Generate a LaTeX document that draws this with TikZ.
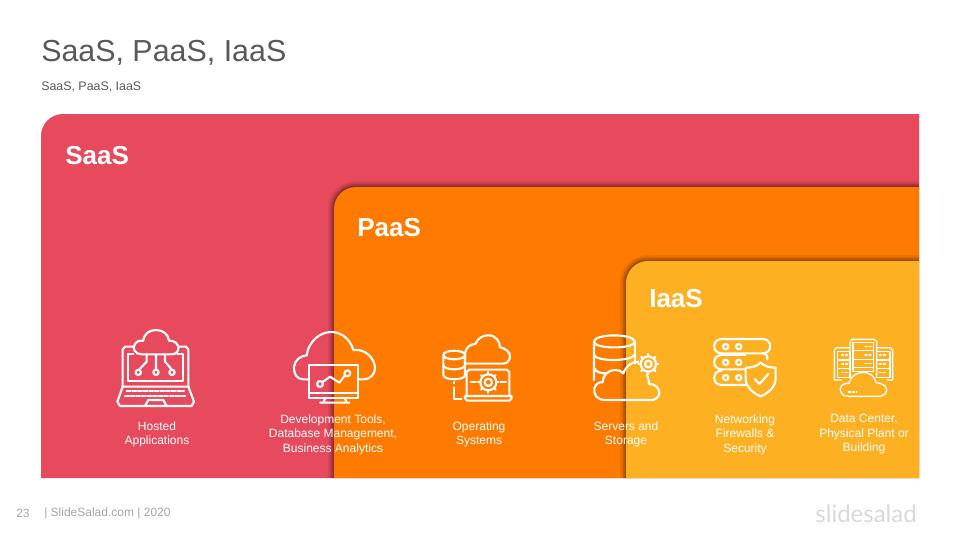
\documentclass[tikz,border=0pt]{standalone}
\usepackage{fontspec}
\setmainfont{Liberation Sans}
\newfontfamily\logofont{Lato}
\definecolor{saascol}{HTML}{E64A5C}
\definecolor{paascol}{HTML}{FF7B00}
\definecolor{iaascol}{HTML}{FDB022}
\definecolor{titlecol}{HTML}{595959}
\definecolor{footcol}{HTML}{A6A6A6}
\definecolor{logocol}{HTML}{D9D9D9}
\tikzset{
  paneltitle/.style={anchor=west, inner sep=0pt, text=white, font=\fontsize{19.5}{24}\selectfont\bfseries},
  iconlabel/.style={align=center, inner sep=0pt, text=white, font=\fontsize{9}{10.9}\selectfont},
  footnote/.style={anchor=west, inner sep=0pt, text=footcol, font=\fontsize{9}{10}\selectfont},
  iconline/.style={draw=white, line width=1.6pt, line join=round, line cap=round},
  thinline/.style={draw=white, line width=1pt, line join=round, line cap=round},
}
\begin{document}
\begin{tikzpicture}[x=0.75pt,y=-0.75pt]
  \useasboundingbox (0,0) rectangle (960,540);

  % title
  \node[anchor=west, inner sep=0pt, text=titlecol, font=\fontsize{22.8}{28}\selectfont] (title) at (41,53) {SaaS, PaaS, IaaS};
  \node[anchor=west, inner sep=0pt, text=titlecol, font=\fontsize{9.3}{11}\selectfont] (subtitle) at (41,87) {SaaS, PaaS, IaaS};

  % panels
  \fill[saascol] (919,114) -- (63,114) arc (270:180:22) -- (41,478) -- (919,478) -- cycle;
  \foreach \w/\o in {12/.06,9/.08,6/.12,3/.18} {
    \draw[black, line width=\w*0.75pt, opacity=\o] (919,187) -- (356,187) arc (270:180:22) -- (334,478);
  }
  \fill[paascol] (919,187) -- (356,187) arc (270:180:22) -- (334,478) -- (919,478) -- cycle;
  \foreach \w/\o in {12/.06,9/.08,6/.12,3/.18} {
    \draw[black, line width=\w*0.75pt, opacity=\o] (919,261) -- (648,261) arc (270:180:22) -- (626,478);
  }
  \fill[iaascol] (919,261) -- (648,261) arc (270:180:22) -- (626,478) -- (919,478) -- cycle;

  \node[paneltitle] (saas) at (65,156) {SaaS};
  \node[paneltitle] (paas) at (357,228) {PaaS};
  \node[paneltitle] (iaas) at (649,299) {IaaS};

  % hosted applications
  \begin{scope}[shift={(100,320)}, x=0.25pt, y=-0.25pt]
    \draw[iconline] (125,103) .. controls (105,103) and (95,85) .. (105,72) .. controls (112,62) and (122,60) .. (130,62) .. controls (132,40) and (150,30) .. (168,30) .. controls (188,30) and (205,42) .. (207,62) .. controls (222,60) and (238,72) .. (235,88) .. controls (232,100) and (222,103) .. (212,103) -- cycle;
    \draw[iconline] (100,80) -- (75,80) -- (68,88) -- (68,200) (235,80) -- (258,80) -- (265,88) -- (265,200);
    \draw[iconline] (100,103) -- (85,103) -- (85,182) -- (248,182) -- (248,103) -- (232,103);
    \draw[iconline] (168,103) -- (168,149) (140,103) -- (140,125) -- (120,146) (195,103) -- (195,125) -- (213,146);
    \draw[iconline] (168,157) circle (8) (115,157) circle (8) (216,157) circle (8);
    \draw[iconline] (68,200) -- (265,200) -- (282,245) -- (275,258) -- (60,258) -- (52,245) -- cycle;
    \draw[iconline, dash pattern=on 3pt off 1.2pt] (80,212) -- (252,212) (75,228) -- (258,228);
    \draw[iconline] (135,258) -- (145,240) -- (190,240) -- (200,258);
  \end{scope}
  \node[iconlabel] (hosted) at (157,434.5) {Hosted\\Applications};

  % development tools
  \begin{scope}[shift={(100,320)}, x=0.25pt, y=-0.25pt]
    \draw[iconline] (627,178) -- (610,178) .. controls (590,178) and (580,160) .. (582,140) .. controls (585,120) and (600,108) .. (620,106) .. controls (625,65) and (660,35) .. (695,36) .. controls (725,36) and (752,60) .. (760,90) .. controls (795,85) and (825,115) .. (825,145) .. controls (825,165) and (808,178) .. (790,178) -- (775,178);
    \draw[iconline] (627,135) rectangle (775,235);
    \draw[iconline] (627,218) -- (775,218);
    \draw[iconline] (675,235) -- (670,248) (735,235) -- (740,248) (660,248) -- (748,248);
    \draw[iconline] (660,192) circle (9) (742,160) circle (9);
    \draw[iconline] (668,186) -- (690,170) -- (718,188) -- (735,166);
  \end{scope}
  \node[iconlabel] (devtools) at (333,434.5) {Development Tools,\\Database Management,\\Business Analytics};

  % operating systems
  \begin{scope}[shift={(420,320)}, x=0.25pt, y=-0.25pt]
    \draw[iconline] (70,105) .. controls (70,88) and (135,88) .. (135,105) .. controls (135,122) and (70,122) .. (70,105) -- (70,165) .. controls (70,182) and (135,182) .. (135,165) -- (135,105);
    \draw[iconline] (70,135) .. controls (70,152) and (135,152) .. (135,135);
    \draw[iconline] (102,186) -- (102,190) (102,202) -- (102,237) -- (125,237);
    \draw[iconline] (135,130) -- (135,100) .. controls (138,82) and (150,72) .. (166,72) .. controls (172,55) and (190,45) .. (205,46) .. controls (228,46) and (240,65) .. (240,82) .. controls (258,85) and (272,98) .. (270,112) .. controls (268,124) and (258,131) .. (248,131) -- (135,131);
    \draw[iconline] (140,228) -- (140,156) -- (148,149) -- (260,149) -- (268,156) -- (268,228);
    \draw[iconline] (135,228) -- (275,228) -- (275,235) -- (268,242) -- (142,242) -- (135,235) -- cycle;
    \draw[iconline] (152,187) -- (168,187) (242,187) -- (258,187);
    \draw[iconline] (205,187) circle (24) (205,187) circle (11);
    \foreach \a in {0,45,...,315} {
      \draw[iconline] (205,187) ++(\a:24) -- ++(\a:7);
    }
  \end{scope}
  \node[iconlabel] (opsys) at (479,434.5) {Operating\\Systems};

  % servers and storage
  \begin{scope}[shift={(420,320)}, x=0.25pt, y=-0.25pt]
    \draw[iconline] (522,65) .. controls (522,40) and (644,40) .. (644,65) .. controls (644,88) and (522,88) .. (522,65) -- (522,180);
    \draw[iconline] (644,65) -- (644,130);
    \draw[iconline] (522,105) .. controls (530,125) and (630,125) .. (644,105);
    \draw[iconline] (522,145) .. controls (530,158) and (545,160) .. (560,160);
    \draw[iconline] (555,240) .. controls (530,240) and (520,222) .. (523,205) .. controls (527,190) and (540,185) .. (548,187) .. controls (548,165) and (565,150) .. (585,150) .. controls (595,150) and (605,153) .. (610,160) .. controls (618,138) and (635,125) .. (655,125);
    \draw[iconline] (680,163) .. controls (685,175) and (688,185) .. (686,192) .. controls (705,190) and (718,205) .. (718,218) .. controls (718,232) and (705,240) .. (695,240) -- (555,240);
    \draw[iconline] (685,132) circle (23) (685,132) circle (10);
    \foreach \a in {0,45,...,315} {
      \draw[iconline] (685,132) ++(\a:23) -- ++(\a:7);
    }
  \end{scope}
  \node[iconlabel] (servers) at (626,434.5) {Servers and\\Storage};

  % networking
  \begin{scope}[shift={(690,320)}, x=0.25pt, y=-0.25pt]
    \draw[iconline] (95,57) -- (218,57) .. controls (248,57) and (248,100) .. (218,100) -- (95,100) .. controls (65,100) and (65,57) .. (95,57) -- cycle;
    \draw[iconline] (218,100) .. controls (232,102) and (235,112) .. (232,118);
    \draw[iconline] (95,105) .. controls (65,105) and (65,148) .. (95,148) -- (165,148);
    \draw[iconline] (95,105) -- (165,105);
    \draw[iconline] (95,152) .. controls (65,152) and (65,195) .. (95,195) -- (172,195);
    \draw[iconline] (107,80) circle (8) (146,80) circle (8) (107,127) circle (8) (146,127) circle (8) (107,173) circle (8) (146,173) circle (8);
    \draw[iconline] (212,128) .. controls (225,140) and (240,143) .. (257,143) -- (257,175) .. controls (257,200) and (235,220) .. (212,229) .. controls (189,220) and (167,200) .. (167,175) -- (167,143) .. controls (184,143) and (199,140) .. (212,128) -- cycle;
    \draw[iconline] (194,177) -- (208,192) -- (235,162);
  \end{scope}
  \node[iconlabel] (network) at (745,434.5) {Networking\\Firewalls \&\\Security};

  % data center
  \begin{scope}[shift={(690,320)}, x=0.25pt, y=-0.25pt]
    \draw[thinline] (480,83) -- (440,83) -- (433,90) -- (433,180) -- (455,180);
    \draw[thinline] (560,83) -- (601,83) -- (608,90) -- (608,180) -- (590,180);
    \draw[thinline] (480,165) -- (480,65) -- (487,58) -- (553,58) -- (560,65) -- (560,165);
    \draw[thinline] (442,95) rectangle (480,172) (560,95) rectangle (600,172);
    \draw[thinline] (489,67) rectangle (551,155);
    \draw[thinline] (442,120) -- (480,120) (442,146) -- (480,146) (560,120) -- (600,120) (560,146) -- (600,146) (489,92) -- (551,92) (489,118) -- (551,118) (489,143) -- (551,143);
    \foreach \y in {105,132,158} {
      \draw[thinline, dash pattern=on 1.5pt off 1.5pt] (455,\y) -- (473,\y) (568,\y) -- (586,\y);
    }
    \foreach \y in {80,105,130} {
      \draw[thinline, dash pattern=on 1.5pt off 1.5pt] (525,\y) -- (543,\y);
    }
    \draw[thinline, fill=iaascol] (475,229) .. controls (455,229) and (450,215) .. (451,205) .. controls (453,195) and (465,188) .. (477,190) .. controls (480,170) and (500,157) .. (520,157) .. controls (540,157) and (555,170) .. (558,188) .. controls (575,188) and (590,198) .. (590,210) .. controls (590,222) and (578,229) .. (565,229) -- cycle;
    \draw[thinline, dash pattern=on 1.5pt off 1.5pt] (475,216) -- (500,216);
  \end{scope}
  \node[iconlabel] (datacenter) at (864,434.5) {Data Center,\\Physical Plant or\\Building};

  % footer
  \node[footnote] (pagenum) at (16,513) {23};
  \node[footnote] (footer) at (44,513) {| SlideSalad.com | 2020};
  \node[anchor=east, inner sep=0pt, text=logocol, font=\logofont\fontsize{18}{22}\selectfont] (logo) at (917,514) {slidesalad};
\end{tikzpicture}
\end{document}
